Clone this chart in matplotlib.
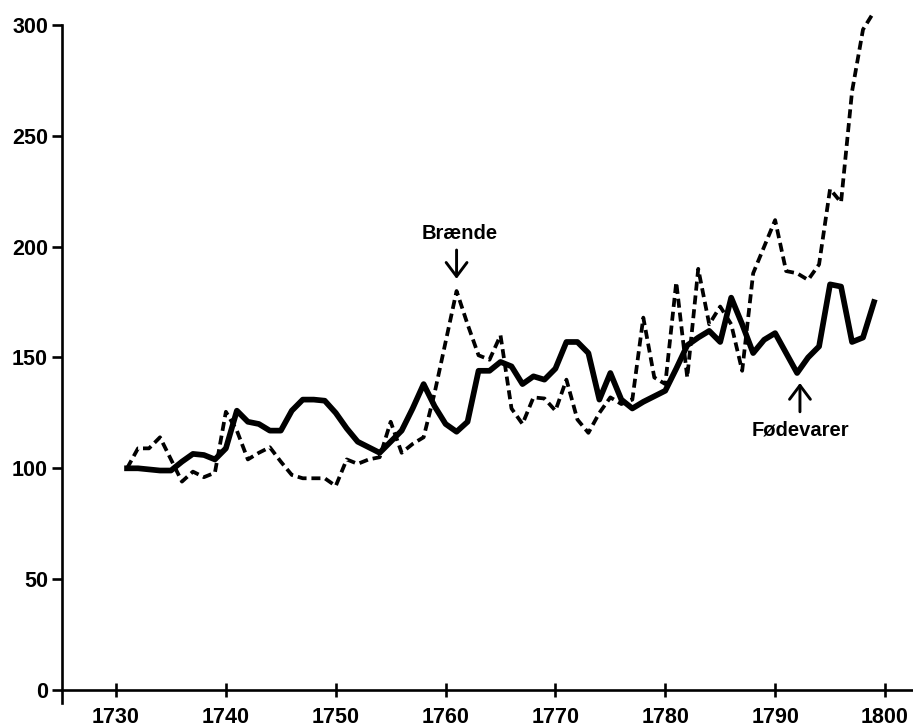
import matplotlib.pyplot as plt

# Prisindeks 1731-1799
years = list(range(1731, 1800))

foedevarer = [100, 100, 99.5, 99, 99, 103, 106.5, 106, 104, 109,
              126, 121, 120, 117, 117, 126, 131, 131, 130.5, 125,
              118, 112, 109.5, 107, 112, 117, 127, 138, 128, 120,
              116.5, 121, 144, 144, 148, 146, 138, 141.5, 140, 145,
              157, 157, 152, 131, 143, 131, 127, 130, 132.5, 135,
              145, 155.5, 159, 162, 157, 177, 165, 152, 158, 161,
              152, 143, 150, 155, 183, 182, 157, 159, 175]

braende = [100, 109, 109, 114, 104, 94, 98.5, 96, 98, 125.5,
           117, 104, 107, 109.5, 103, 97, 95.5, 95.5, 95.5, 92,
           104, 102, 104, 105, 121, 107, 111, 114, 134, 157,
           180, 165, 151, 149, 160, 127, 120, 132, 131.5, 126,
           140, 122, 116, 125, 132, 129, 131, 168, 141, 138,
           184, 141, 190, 165, 173, 165, 144, 188, 200, 212,
           189, 188, 185, 192, 226, 220, 270, 298, 306]

xticks = [1730, 1740, 1750, 1760, 1770, 1780, 1790, 1800]
yticks = [0, 50, 100, 150, 200, 250, 300]

plt.rcParams['font.family'] = ['Liberation Sans', 'DejaVu Sans']
plt.rcParams['font.weight'] = 'bold'

fig = plt.figure(figsize=(9.13, 7.27), dpi=100)
ax = fig.add_axes([62 / 913, 24 / 727, 850 / 913, 693 / 727])

ax.plot(years, braende, color='black', lw=2.7, dashes=(2.4, 1.3),
        clip_on=False)
ax.plot(years, foedevarer, color='black', lw=4.1, solid_joinstyle='round',
        clip_on=False)

ax.set_xlim(1725.08, 1802.46)
ax.set_ylim(-5.9, 306.8)

ax.spines['top'].set_visible(False)
ax.spines['right'].set_visible(False)
ax.spines['bottom'].set_position(('data', 0))
ax.spines['left'].set_bounds(-5.9, 300)
ax.spines['left'].set_linewidth(1.9)
ax.spines['bottom'].set_linewidth(1.9)

ax.set_xticks(xticks)
ax.set_yticks(yticks)
ax.tick_params(axis='x', direction='inout', length=10, width=1.9,
               pad=7, labelsize=15.5)
ax.tick_params(axis='y', direction='out', length=7, width=1.9,
               pad=3, labelsize=15.5)

# Etiketter med pile
pil = dict(arrowstyle='->, head_length=1.0, head_width=0.75',
           lw=2.1, color='black', shrinkA=0, shrinkB=0)

ax.text(1761.3, 206, 'Brænde', ha='center', va='center', fontsize=14.5,
        fontweight='bold')
ax.annotate('', xy=(1761.0, 185.5), xytext=(1761.0, 198.5), arrowprops=pil)

ax.text(1792.3, 117.3, 'Fødevarer', ha='center', va='center', fontsize=14.5,
        fontweight='bold')
ax.annotate('', xy=(1792.26, 138.5), xytext=(1792.26, 125.5), arrowprops=pil)

plt.savefig('out.png', dpi=100)
